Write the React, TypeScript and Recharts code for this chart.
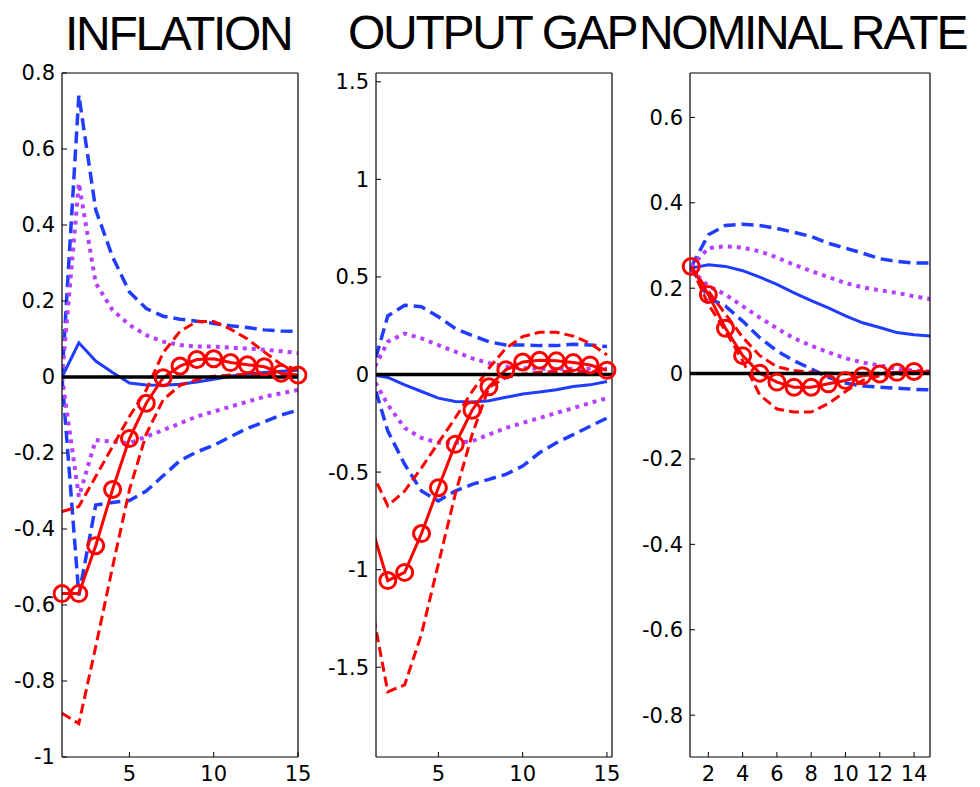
import React from "react";
import { LineChart, Line, XAxis, YAxis, ReferenceLine } from "recharts";

const BLUE = "#1f3cff";
const RED = "#ff0000";
const PURPLE = "#b540ff";

const steps = [1, 2, 3, 4, 5, 6, 7, 8, 9, 10, 11, 12, 13, 14, 15];

// INFLATION
const inflRedMid = [-0.57, -0.57, -0.444, -0.296, -0.162, -0.069, -0.002, 0.029, 0.046, 0.048, 0.038, 0.032, 0.027, 0.01, 0.005];
const inflRedUp = [-0.354, -0.341, -0.262, -0.183, -0.104, -0.034, 0.064, 0.12, 0.146, 0.146, 0.126, 0.1, 0.066, 0.033, 0.018];
const inflRedLow = [-0.885, -0.912, -0.71, -0.5, -0.297, -0.15, -0.06, -0.022, -0.007, 0.002, 0.005, 0.007, 0.007, 0.006, 0.005];
const inflBlueMid = [0, 0.09, 0.042, 0.012, -0.016, -0.021, -0.022, -0.019, -0.013, -0.006, 0.002, 0.008, 0.012, 0.015, 0.018];
const inflBlueUp = [0, 0.742, 0.44, 0.316, 0.224, 0.18, 0.16, 0.152, 0.147, 0.141, 0.135, 0.13, 0.124, 0.121, 0.12];
const inflBlueLow = [0, -0.575, -0.337, -0.33, -0.325, -0.3, -0.26, -0.22, -0.197, -0.18, -0.157, -0.135, -0.118, -0.1, -0.087];
const inflPurpUp = [0, 0.51, 0.247, 0.176, 0.137, 0.11, 0.093, 0.084, 0.08, 0.08, 0.077, 0.075, 0.072, 0.068, 0.063];
const inflPurpLow = [0, -0.315, -0.166, -0.17, -0.174, -0.157, -0.14, -0.122, -0.104, -0.091, -0.078, -0.065, -0.052, -0.043, -0.034];

// OUTPUT GAP
const gapRedMid = [-0.77, -1.056, -1.014, -0.815, -0.58, -0.358, -0.183, -0.063, 0.024, 0.064, 0.073, 0.07, 0.061, 0.049, 0.022];
const gapRedUp = [-0.49, -0.673, -0.597, -0.478, -0.35, -0.223, -0.087, 0.032, 0.134, 0.194, 0.216, 0.216, 0.197, 0.16, 0.1];
const gapRedLow = [-1.17, -1.626, -1.59, -1.33, -0.97, -0.614, -0.308, -0.066, -0.015, 0.002, 0.012, 0.015, 0.015, 0.015, 0.015];
const gapBlueMid = [0, -0.015, -0.053, -0.087, -0.121, -0.138, -0.141, -0.134, -0.117, -0.1, -0.09, -0.078, -0.061, -0.053, -0.036];
const gapBlueUp = [0, 0.3, 0.355, 0.347, 0.296, 0.236, 0.2, 0.168, 0.151, 0.151, 0.148, 0.148, 0.155, 0.151, 0.143];
const gapBlueLow = [0, -0.29, -0.46, -0.597, -0.648, -0.597, -0.563, -0.537, -0.512, -0.469, -0.401, -0.35, -0.308, -0.265, -0.223];
const gapPurpUp = [0, 0.168, 0.21, 0.185, 0.151, 0.117, 0.083, 0.058, 0.041, 0.032, 0.03, 0.03, 0.029, 0.029, 0.029];
const gapPurpLow = [0, -0.155, -0.274, -0.325, -0.35, -0.35, -0.342, -0.308, -0.274, -0.248, -0.223, -0.197, -0.172, -0.146, -0.121];

// NOMINAL RATE
const rateRedMid = [0.251, 0.185, 0.106, 0.042, 0.001, -0.02, -0.032, -0.032, -0.024, -0.016, -0.005, -0.001, 0.003, 0.005, 0.004];
const rateRedUp = [0.25, 0.193, 0.139, 0.085, 0.042, 0.016, 0.007, 0.003, 0.001, 0, 0, 0.001, 0.002, 0.003, 0.003];
const rateRedLow = [0.25, 0.162, 0.1, 0.03, -0.05, -0.083, -0.09, -0.09, -0.07, -0.042, -0.016, -0.005, -0.002, 0, 0];
const rateBlueMid = [0.247, 0.255, 0.251, 0.241, 0.226, 0.209, 0.189, 0.171, 0.154, 0.135, 0.119, 0.108, 0.096, 0.091, 0.088];
const rateBlueUp = [0.25, 0.325, 0.347, 0.35, 0.347, 0.34, 0.331, 0.321, 0.305, 0.294, 0.282, 0.269, 0.263, 0.259, 0.259];
const rateBlueLow = [0.25, 0.177, 0.158, 0.123, 0.084, 0.053, 0.03, 0.011, -0.009, -0.022, -0.029, -0.032, -0.034, -0.037, -0.038];
const ratePurpUp = [0.25, 0.294, 0.298, 0.295, 0.286, 0.272, 0.255, 0.24, 0.226, 0.212, 0.202, 0.195, 0.189, 0.181, 0.174];
const ratePurpLow = [0.243, 0.205, 0.185, 0.158, 0.131, 0.106, 0.083, 0.065, 0.05, 0.036, 0.026, 0.019, 0.011, 0.007, 0.005];

const inflXTicks = [5, 10, 15];
const inflYTicks = [-1, -0.8, -0.6, -0.4, -0.2, 0, 0.2, 0.4, 0.6, 0.8];
const gapXTicks = [5, 10, 15];
const gapYTicks = [-1.5, -1, -0.5, 0, 0.5, 1, 1.5];
const rateXTicks = [2, 4, 6, 8, 10, 12, 14];
const rateYTicks = [-0.8, -0.6, -0.4, -0.2, 0, 0.2, 0.4, 0.6];

type Series = {
  redMid: number[];
  redUp: number[];
  redLow: number[];
  blueMid: number[];
  blueUp: number[];
  blueLow: number[];
  purpUp: number[];
  purpLow: number[];
};

const tickStyle = { fill: "#000", fontSize: 21, fontFamily: "DejaVu Sans" };

function Panel({
  left,
  width,
  yAxisWidth,
  right,
  xDomain,
  yDomain,
  xTicks,
  yTicks,
  s,
}: {
  left: number;
  width: number;
  yAxisWidth: number;
  right: number;
  xDomain: [number, number];
  yDomain: [number, number];
  xTicks: number[];
  yTicks: number[];
  s: Series;
}) {
  const rows = steps.map((x, i) => ({
    x,
    redMid: s.redMid[i],
    // markers outside the visible x range are not drawn (matlab clips them)
    marker: x >= xDomain[0] && x <= xDomain[1] ? s.redMid[i] : null,
    redUp: s.redUp[i],
    redLow: s.redLow[i],
    blueMid: s.blueMid[i],
    blueUp: s.blueUp[i],
    blueLow: s.blueLow[i],
    purpUp: s.purpUp[i],
    purpLow: s.purpLow[i],
  }));

  const axisLine = { stroke: "#000", strokeWidth: 1.2 };
  const tickLine = { stroke: "#000", strokeWidth: 1 };

  return (
    <div style={{ position: "absolute", left, top: 0 }}>
      <LineChart
        width={width}
        height={787}
        data={rows}
        margin={{ top: 72, right: right - 1, bottom: 0, left: 0 }}
      >
        <XAxis
          dataKey="x"
          type="number"
          domain={xDomain}
          allowDataOverflow
          ticks={xTicks}
          interval={0}
          height={30}
          tickSize={-5}
          tickMargin={14}
          axisLine={axisLine}
          tickLine={tickLine}
          tick={tickStyle}
        />
        <XAxis
          xAxisId="top"
          orientation="top"
          dataKey="x"
          type="number"
          domain={xDomain}
          allowDataOverflow
          ticks={xTicks}
          interval={0}
          height={1}
          tickSize={-5}
          axisLine={axisLine}
          tickLine={tickLine}
          tick={false}
        />
        <YAxis
          type="number"
          domain={yDomain}
          allowDataOverflow
          ticks={yTicks}
          interval={0}
          width={yAxisWidth}
          tickSize={-5}
          tickMargin={12}
          axisLine={axisLine}
          tickLine={tickLine}
          tick={tickStyle}
        />
        <YAxis
          yAxisId="right"
          orientation="right"
          type="number"
          domain={yDomain}
          allowDataOverflow
          ticks={yTicks}
          interval={0}
          width={1}
          tickSize={-5}
          axisLine={axisLine}
          tickLine={tickLine}
          tick={false}
        />
        <Line dataKey="blueUp" stroke={BLUE} strokeWidth={3.5} strokeDasharray="12 6" dot={false} isAnimationActive={false} />
        <Line dataKey="blueLow" stroke={BLUE} strokeWidth={3.5} strokeDasharray="12 6" dot={false} isAnimationActive={false} />
        <Line dataKey="purpUp" stroke={PURPLE} strokeWidth={4} strokeDasharray="4 5" dot={false} isAnimationActive={false} />
        <Line dataKey="purpLow" stroke={PURPLE} strokeWidth={4} strokeDasharray="4 5" dot={false} isAnimationActive={false} />
        <Line dataKey="blueMid" stroke={BLUE} strokeWidth={3} dot={false} isAnimationActive={false} />
        <Line dataKey="redUp" stroke={RED} strokeWidth={3} strokeDasharray="10 5" dot={false} isAnimationActive={false} />
        <Line dataKey="redLow" stroke={RED} strokeWidth={3} strokeDasharray="10 5" dot={false} isAnimationActive={false} />
        <Line dataKey="redMid" stroke={RED} strokeWidth={3} dot={false} isAnimationActive={false} />
        <ReferenceLine y={0} stroke="#000" strokeWidth={3.5} />
        <Line
          dataKey="marker"
          stroke="none"
          dot={{ r: 8, stroke: RED, strokeWidth: 3, fill: "none", clipDot: false }}
          activeDot={false}
          isAnimationActive={false}
        />
      </LineChart>
    </div>
  );
}

const titleFont = {
  fontFamily: "Liberation Sans, Arial, sans-serif",
  fontSize: 48,
  fill: "#000",
  letterSpacing: -2.3,
};

export default function App() {
  return (
    <div style={{ position: "absolute", left: 0, top: 0, width: 980, height: 787, background: "#fff" }}>
      <Panel
        left={0}
        width={310}
        yAxisWidth={62}
        right={12}
        xDomain={[1, 15]}
        yDomain={[-1, 0.8]}
        xTicks={inflXTicks}
        yTicks={inflYTicks}
        s={{
          redMid: inflRedMid, redUp: inflRedUp, redLow: inflRedLow,
          blueMid: inflBlueMid, blueUp: inflBlueUp, blueLow: inflBlueLow,
          purpUp: inflPurpUp, purpLow: inflPurpLow,
        }}
      />
      <Panel
        left={310}
        width={310}
        yAxisWidth={66}
        right={8}
        xDomain={[1.3, 15.3]}
        yDomain={[-1.96, 1.545]}
        xTicks={gapXTicks}
        yTicks={gapYTicks}
        s={{
          redMid: gapRedMid, redUp: gapRedUp, redLow: gapRedLow,
          blueMid: gapBlueMid, blueUp: gapBlueUp, blueLow: gapBlueLow,
          purpUp: gapPurpUp, purpLow: gapPurpLow,
        }}
      />
      <Panel
        left={620}
        width={360}
        yAxisWidth={70}
        right={50}
        xDomain={[0.93, 14.93]}
        yDomain={[-0.898, 0.704]}
        xTicks={rateXTicks}
        yTicks={rateYTicks}
        s={{
          redMid: rateRedMid, redUp: rateRedUp, redLow: rateRedLow,
          blueMid: rateBlueMid, blueUp: rateBlueUp, blueLow: rateBlueLow,
          purpUp: ratePurpUp, purpLow: ratePurpLow,
        }}
      />
      <svg
        width={980}
        height={70}
        style={{ position: "absolute", left: 0, top: 0, pointerEvents: "none" }}
      >
        <text x={65} y={50} style={titleFont}>
          INFLATION
        </text>
        <text x={348} y={49} style={titleFont}>
          OUTPUT GAP
        </text>
        <text x={639} y={49} style={titleFont}>
          NOMINAL RATE
        </text>
      </svg>
    </div>
  );
}
